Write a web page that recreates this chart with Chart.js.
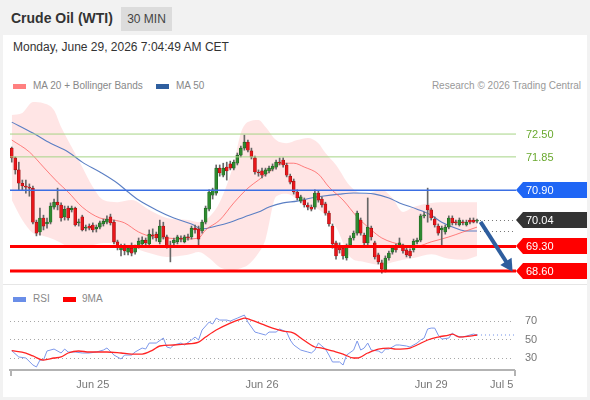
<!DOCTYPE html>
<html>
<head>
<meta charset="utf-8">
<script src="https://cdn.jsdelivr.net/npm/chart.js@4.4.1/dist/chart.umd.min.js"></script>
<style>
  html, body { margin: 0; padding: 0; }
  body { width: 590px; height: 400px; background: #f2f2f2; position: relative; overflow: hidden;
         font-family: "Liberation Sans", Arial, sans-serif; }
  #panel { position: absolute; left: 3px; top: 35px; width: 584px; height: 362px; background: #fff; }
  #title { position: absolute; left: 11px; top: 10px; font-size: 14px; font-weight: bold; color: #333; }
  #tf { position: absolute; left: 121px; top: 7px; width: 51px; height: 24px; line-height: 24px; text-align: center;
        background: #dcdcdc; color: #444; font-size: 12px; }
  #date { position: absolute; left: 13px; top: 40px; font-size: 12px; color: #333; }
  .leg { position: absolute; font-size: 10px; color: #888; white-space: nowrap; }
  .sw { position: absolute; width: 13px; height: 5px; }
  #sep { position: absolute; left: 3px; top: 284px; width: 584px; height: 1px; background: #e6e6e6; }
  canvas { position: absolute; left: 0; }
</style>
</head>
<body>
<div id="panel"></div>
<div id="title">Crude Oil (WTI)</div>
<div id="tf">30 MIN</div>
<div id="date">Monday, June 29, 2026 7:04:49 AM CET</div>

<div class="sw" style="left:13px; top:84px; background:#ff8080;"></div>
<div class="leg" style="left:33px; top:80px;">MA 20 + Bollinger Bands</div>
<div class="sw" style="left:156px; top:84px; background:#2f5f9f;"></div>
<div class="leg" style="left:176px; top:80px;">MA 50</div>
<div class="leg" style="right:9px; top:80px; color:#999;">Research © 2026 Trading Central</div>

<div id="sep"></div>

<div class="sw" style="left:13px; top:297px; background:#6a8ee8;"></div>
<div class="leg" style="left:33px; top:293px;">RSI</div>
<div class="sw" style="left:63px; top:297px; background:#ff0000;"></div>
<div class="leg" style="left:82px; top:293px;">9MA</div>

<canvas id="price" width="590" height="184" style="top:100px;"></canvas>
<canvas id="rsi" width="590" height="90" style="top:305px;"></canvas>

<script>
// 30-minute candles, oldest first (Jun 24 afternoon .. Jun 29 06:30)
const candleOpen = [
  72.10, 71.82, 71.48, 71.10, 71.02, 70.99, 70.96, 69.99, 69.71, 70.11,
  69.94, 69.99, 70.42, 70.56, 70.48, 70.14, 70.39, 70.34, 70.39, 69.97,
  70.14, 69.82, 69.88, 69.91, 69.80, 69.85, 69.94, 69.99, 70.14, 69.99,
  69.43, 69.20, 69.31, 69.14, 69.25, 69.14, 69.31, 69.37, 69.48, 69.37,
  69.62, 69.65, 69.43, 69.88, 69.57, 69.34, 69.40, 69.43, 69.54, 69.43,
  69.57, 69.57, 69.82, 69.80, 69.74, 69.99, 70.36, 70.76, 70.82, 71.53,
  71.33, 71.56, 71.65, 71.53, 71.67, 71.90, 72.10, 72.27, 72.02, 71.82,
  71.42, 71.45, 71.36, 71.45, 71.50, 71.56, 71.70, 71.76, 71.62, 71.30,
  71.16, 70.85, 70.59, 70.62, 70.48, 70.42, 70.42, 70.82, 70.65, 70.51,
  70.25, 69.88, 69.40, 69.31, 69.25, 68.97, 69.34, 69.54, 69.68, 70.05,
  69.62, 69.40, 69.82, 69.40, 69.06, 68.83, 68.63, 68.97, 69.14, 69.28,
  69.34, 69.31, 69.20, 69.17, 69.20, 69.43, 69.48, 70.17, 70.48, 70.34,
  70.08, 69.88, 69.77, 69.71, 69.85, 70.11, 69.99, 69.91, 69.99, 69.91,
  70.05, 70.05, 70.02
];
const candleHigh = [
  72.13, 71.85, 71.70, 71.19, 71.19, 71.08, 71.02, 70.05, 70.39, 70.19,
  70.11, 70.54, 70.65, 70.96, 70.54, 70.45, 70.45, 70.45, 70.42, 70.08,
  70.19, 69.91, 69.94, 69.97, 69.91, 70.02, 70.08, 70.17, 70.22, 70.05,
  69.48, 69.37, 69.37, 69.31, 69.40, 69.34, 69.54, 69.57, 69.54, 69.77,
  69.80, 69.71, 70.05, 69.99, 69.62, 69.45, 69.54, 69.62, 69.60, 69.62,
  69.65, 69.88, 69.91, 69.88, 70.05, 70.45, 70.91, 70.96, 71.62, 71.62,
  71.67, 71.70, 71.73, 71.76, 71.96, 72.16, 72.47, 72.33, 72.10, 71.87,
  71.48, 71.53, 71.53, 71.59, 71.65, 71.76, 71.82, 71.82, 71.67, 71.36,
  71.22, 70.91, 70.76, 70.68, 70.54, 70.48, 70.91, 70.88, 70.71, 70.56,
  70.31, 69.94, 69.45, 69.40, 69.31, 69.37, 69.60, 69.74, 70.31, 70.11,
  69.68, 70.68, 69.88, 69.45, 69.11, 68.91, 69.03, 69.17, 69.31, 69.37,
  69.54, 69.37, 69.25, 69.23, 69.51, 69.54, 70.22, 70.28, 70.96, 70.39,
  70.14, 69.94, 69.88, 69.91, 70.17, 70.17, 70.05, 70.11, 70.05, 70.05,
  70.11, 70.11, 70.08
];
const candleLow = [
  71.70, 71.36, 70.91, 70.91, 70.82, 70.73, 69.94, 69.60, 69.62, 69.77,
  69.82, 69.94, 70.36, 70.34, 70.02, 70.05, 70.05, 70.28, 69.88, 69.88,
  69.74, 69.74, 69.77, 69.71, 69.71, 69.80, 69.88, 69.94, 69.91, 69.37,
  69.20, 69.03, 69.06, 69.06, 69.03, 69.08, 69.25, 69.31, 69.31, 69.31,
  69.51, 69.45, 69.37, 69.51, 69.25, 68.86, 69.31, 69.37, 69.43, 69.40,
  69.48, 69.51, 69.68, 69.28, 69.68, 69.94, 70.31, 70.65, 70.76, 71.30,
  71.28, 71.19, 71.48, 71.48, 71.62, 71.85, 72.04, 71.99, 71.79, 71.36,
  71.30, 71.25, 71.30, 71.39, 71.45, 71.50, 71.62, 71.56, 71.28, 71.08,
  70.79, 70.62, 70.54, 70.42, 70.34, 70.31, 70.36, 70.56, 70.42, 70.19,
  69.88, 69.25, 68.94, 69.11, 68.94, 68.91, 69.28, 69.48, 69.62, 69.62,
  69.34, 69.34, 69.48, 68.94, 68.80, 68.54, 68.57, 68.91, 69.08, 69.14,
  69.28, 69.11, 69.00, 68.97, 69.14, 69.37, 69.43, 70.11, 69.99, 70.05,
  69.85, 69.62, 69.28, 69.65, 69.80, 69.91, 69.91, 69.88, 69.91, 69.88,
  69.94, 69.97, 69.97
];
const candleClose = [
  71.82, 71.48, 71.10, 71.02, 70.99, 70.96, 69.99, 69.68, 70.11, 69.88,
  69.99, 70.45, 70.56, 70.48, 70.11, 70.36, 70.11, 70.39, 69.91, 69.99,
  69.77, 69.85, 69.82, 69.77, 69.85, 69.97, 70.02, 70.08, 69.97, 69.43,
  69.28, 69.31, 69.17, 69.25, 69.11, 69.28, 69.45, 69.48, 69.40, 69.65,
  69.60, 69.54, 69.88, 69.57, 69.31, 69.28, 69.48, 69.57, 69.51, 69.57,
  69.54, 69.82, 69.77, 69.51, 69.99, 70.39, 70.85, 70.91, 71.53, 71.39,
  71.53, 71.45, 71.53, 71.70, 71.90, 72.10, 72.27, 72.04, 71.85, 71.42,
  71.39, 71.33, 71.48, 71.53, 71.59, 71.70, 71.67, 71.62, 71.33, 71.13,
  70.85, 70.68, 70.71, 70.48, 70.42, 70.36, 70.82, 70.62, 70.48, 70.25,
  69.94, 69.37, 69.03, 69.20, 69.03, 69.31, 69.54, 69.68, 70.25, 69.68,
  69.40, 69.85, 69.57, 69.00, 68.86, 68.66, 68.97, 69.11, 69.25, 69.20,
  69.40, 69.17, 69.06, 69.03, 69.45, 69.48, 70.17, 70.19, 70.34, 70.11,
  69.91, 69.68, 69.82, 69.85, 70.11, 69.97, 69.97, 70.05, 69.97, 69.99,
  69.99, 69.99, 70.04
];

// indicator lines, read at candle positions
const ma20Idx = [0,5,9,13,16,20,25,29,32,36,40,44,49,53,55,59,63,67,70,73,77,80,83,87,90,94,98,102,105,111,115,119,124,128,132];
const ma20Val = [72.33,71.99,71.56,71.13,70.85,70.42,70.11,70.05,69.97,69.71,69.57,69.54,69.51,69.54,69.77,70.05,70.54,70.96,71.19,71.42,71.67,71.67,71.56,71.36,70.99,70.62,70.14,69.77,69.54,69.34,69.31,69.43,69.57,69.71,69.85];

const ma50Idx = [0,6,11,16,20,25,30,33,36,41,46,51,54,58,62,66,70,73,77,81,85,88,93,97,103,107,110,115,119,122,126,129,132];
const ma50Val = [72.84,72.53,72.24,71.99,71.70,71.42,71.10,70.85,70.62,70.34,70.11,69.94,69.80,69.88,69.99,70.14,70.28,70.42,70.54,70.59,70.68,70.73,70.79,70.82,70.79,70.68,70.54,70.36,70.19,69.99,69.82,69.74,69.74];

const bbIdx = [0,3,6,9,12,14,17,20,23,26,30,34,39,44,50,53,56,59,63,65,67,70,72,75,78,81,84,87,89,92,96,100,105,108,111,114,119,124,128,132];
const bbUpper = [73.04,73.10,73.41,73.38,73.18,72.70,72.13,71.56,70.99,70.62,70.56,70.62,70.34,70.11,70.05,69.99,70.14,70.56,71.67,72.53,72.84,72.90,72.70,72.33,72.24,72.33,72.39,72.24,71.96,71.62,71.02,70.79,70.91,70.68,70.28,70.42,70.54,70.56,70.56,70.56];
const bbLower = [70.62,70.05,69.68,69.60,69.50,69.40,69.25,69.25,69.34,69.40,69.40,69.28,69.11,69.00,69.06,69.14,68.97,68.71,68.63,68.68,68.77,69.11,69.50,70.72,70.80,70.65,70.50,70.36,70.20,69.85,69.00,68.86,68.77,68.85,68.92,68.97,69.08,68.95,68.92,69.03];

// key levels on the right
const levelValues = [72.50, 71.85, 70.90, 70.04, 69.30, 68.60];
const projectionLevels = [70.04, 69.74];
const arrowStart = [133, 70.00];
const arrowEnd = [142.1, 68.58];

// RSI panel
const rsiIdx = [0,2,4,6,7,8,9,10,12,14,15,16,18,20,22,24,26,27,29,31,32,34,35,37,38,39,41,43,44,45,46,48,49,51,52,53,54,56,57,58,59,61,62,64,66,67,69,70,72,73,75,76,78,79,80,82,84,85,86,87,88,89,90,91,93,94,95,97,98,99,100,101,102,104,105,106,107,109,110,112,113,115,116,117,118,119,120,121,122,124,125,126,128,129,131,132];
const rsiVal = [37.9,31.1,30.0,22.4,20.3,27.8,27.8,37.6,39.7,35.4,39.7,36.5,36.5,35.4,35.4,36.5,38.6,40.8,33.2,28.9,33.2,33.2,36.5,40.8,39.7,46.2,46.2,51.6,41.9,40.8,44.1,46.2,44.1,49.5,52.7,49.5,60.3,68.9,66.8,73.2,71.1,71.1,70.0,73.2,76.5,68.9,58.1,57.0,54.9,58.1,58.1,61.4,58.1,49.5,44.1,38.6,36.5,35.4,38.6,46.2,43.0,39.7,33.2,25.7,25.7,22.4,33.2,38.6,48.4,38.6,40.8,46.2,38.6,37.6,35.4,39.7,39.7,44.1,44.1,43.0,41.9,46.2,49.5,51.6,61.4,62.4,62.4,54.9,50.5,51.6,57.0,53.8,52.7,53.8,55.9,54.9];
const rsiMaIdx = [0,4,6,9,12,14,16,19,22,27,31,34,37,40,42,46,49,53,55,58,62,65,66,68,71,74,77,80,82,86,88,91,94,97,98,101,104,107,109,113,115,118,121,124,125,127,130,132];
const rsiMaVal = [37.9,35.4,32.2,27.8,30.0,31.1,35.4,37.6,36.5,36.5,35.4,34.3,34.3,38.6,43.0,44.1,45.1,47.3,52.7,60.3,67.8,72.2,73.2,71.1,66.8,62.4,59.2,57.0,51.6,41.9,40.8,37.6,34.3,30.0,30.0,35.4,39.7,40.8,39.7,40.8,44.1,49.5,52.7,54.9,55.9,52.7,53.8,54.9];
const rsiProjIdx = [132, 142.5];
const rsiProjVal = [54.9, 54.9];
const rsiTicks = [70, 50, 30];

// date ticks under the RSI panel
const tickIdx = [23, 71, 119, 139];
const tickLabels = ['Jun 25', 'Jun 26', 'Jun 29', 'Jul 5'];

Chart.defaults.font.family = '"Liberation Sans", Arial, sans-serif';

const FONT = '11px "Liberation Sans", Arial, sans-serif';
const levelStyles = [
  { line: '#a6d486', width: 1, box: null, text: '#6aa92f' },
  { line: '#a6d486', width: 1, box: null, text: '#6aa92f' },
  { line: '#3b6fe3', width: 1.5, box: '#1f66f5', text: '#fff' },
  { line: null, width: 0, box: '#333333', text: '#fff' },
  { line: '#ff0000', width: 3, box: '#ff0000', text: '#fff' },
  { line: '#ff0000', width: 3, box: '#ff0000', text: '#fff' }
];

const toPts = (xs, ys) => xs.map((v, i) => ({ x: v, y: ys[i] }));
const idx = candleOpen.map((_, i) => i);
const up = idx.map(i => candleClose[i] >= candleOpen[i]);

// levels, projection, arrow and price boxes
const levelsPlugin = {
  id: 'levels',
  afterDatasetsDraw(chart) {
    const { ctx, chartArea: a, scales: { x, y } } = chart;
    ctx.save();

    // dotted projections after the last candle
    const x0 = x.getPixelForValue(candleClose.length - 1) + 3;
    ctx.strokeStyle = '#777';
    ctx.lineWidth = 1;
    ctx.setLineDash([1, 3]);
    projectionLevels.forEach(v => {
      const py = Math.round(y.getPixelForValue(v)) + 0.5;
      ctx.beginPath(); ctx.moveTo(x0, py); ctx.lineTo(a.right, py); ctx.stroke();
    });
    ctx.setLineDash([]);

    levelValues.forEach((v, k) => {
      const s = levelStyles[k];
      if (!s.line) return;
      const py = y.getPixelForValue(v);
      ctx.strokeStyle = s.line;
      ctx.lineWidth = s.width;
      ctx.beginPath(); ctx.moveTo(a.left, py); ctx.lineTo(a.right + 2, py); ctx.stroke();
    });

    // forecast arrow
    const ax0 = x.getPixelForValue(arrowStart[0]), ay0 = y.getPixelForValue(arrowStart[1]);
    const ax1 = x.getPixelForValue(arrowEnd[0]), ay1 = y.getPixelForValue(arrowEnd[1]);
    const ang = Math.atan2(ay1 - ay0, ax1 - ax0);
    const head = 14;
    ctx.strokeStyle = '#2e5d9e';
    ctx.fillStyle = '#2e5d9e';
    ctx.lineWidth = 4;
    ctx.beginPath();
    ctx.moveTo(ax0, ay0);
    ctx.lineTo(ax1 - head * 0.8 * Math.cos(ang), ay1 - head * 0.8 * Math.sin(ang));
    ctx.stroke();
    ctx.beginPath();
    ctx.moveTo(ax1, ay1);
    ctx.lineTo(ax1 - head * Math.cos(ang - 0.5), ay1 - head * Math.sin(ang - 0.5));
    ctx.lineTo(ax1 - head * Math.cos(ang + 0.5), ay1 - head * Math.sin(ang + 0.5));
    ctx.closePath();
    ctx.fill();

    // labels
    ctx.font = FONT;
    ctx.textBaseline = 'middle';
    levelValues.forEach((v, k) => {
      const s = levelStyles[k];
      const py = Math.round(y.getPixelForValue(v));
      if (s.box) {
        ctx.fillStyle = s.box;
        ctx.beginPath();
        ctx.moveTo(a.right + 2, py);
        ctx.lineTo(a.right + 9, py - 8);
        ctx.lineTo(a.right + 73, py - 8);
        ctx.lineTo(a.right + 73, py + 8);
        ctx.lineTo(a.right + 9, py + 8);
        ctx.closePath();
        ctx.fill();
      }
      ctx.fillStyle = s.text;
      ctx.fillText(v.toFixed(2), a.right + 12, py + 1);
    });
    ctx.restore();
  }
};

new Chart(document.getElementById('price'), {
  type: 'bar',
  data: {
    datasets: [
      {
        type: 'bar',
        data: idx.map(i => ({ x: i, y: [candleOpen[i], candleClose[i]] })),
        backgroundColor: idx.map(i => up[i] ? '#2e8a30' : '#e8161b'),
        borderColor: idx.map(i => up[i] ? '#1d5e1f' : '#9a1010'),
        borderWidth: 0.6,
        borderSkipped: false,
        barThickness: 3,
        minBarLength: 1,
        grouped: false,
        order: 0
      },
      {
        type: 'bar',
        data: idx.map(i => ({ x: i, y: [candleLow[i], candleHigh[i]] })),
        backgroundColor: '#666',
        barThickness: 1,
        grouped: false,
        order: 1
      },
      {
        type: 'line',
        data: toPts(ma20Idx, ma20Val),
        borderColor: 'rgba(255,90,90,0.75)',
        borderWidth: 1,
        pointRadius: 0,
        cubicInterpolationMode: 'monotone',
        order: 2
      },
      {
        type: 'line',
        data: toPts(ma50Idx, ma50Val),
        borderColor: '#5b7fc4',
        borderWidth: 1.1,
        pointRadius: 0,
        cubicInterpolationMode: 'monotone',
        order: 3
      },
      {
        type: 'line',
        data: toPts(bbIdx, bbUpper),
        borderWidth: 0,
        borderColor: 'rgba(0,0,0,0)',
        pointRadius: 0,
        cubicInterpolationMode: 'monotone',
        fill: '+1',
        backgroundColor: 'rgba(255,40,40,0.12)',
        order: 4
      },
      {
        type: 'line',
        data: toPts(bbIdx, bbLower),
        borderWidth: 0,
        borderColor: 'rgba(0,0,0,0)',
        pointRadius: 0,
        cubicInterpolationMode: 'monotone',
        fill: false,
        order: 5
      }
    ]
  },
  options: {
    responsive: false,
    animation: false,
    layout: { padding: { left: 10, right: 76, top: 0, bottom: 0 } },
    plugins: { legend: { display: false }, tooltip: { enabled: false } },
    scales: {
      x: { type: 'linear', min: -0.5, max: 142.5, offset: false, display: false },
      y: { min: 68.23, max: 73.47, display: false }
    }
  },
  plugins: [levelsPlugin]
});

// RSI labels on the right and the little end ticks of the time axis
const rsiPlugin = {
  id: 'rsiExtras',
  afterDraw(chart) {
    const { ctx, chartArea: a, scales: { y } } = chart;
    ctx.save();
    ctx.font = FONT;
    ctx.fillStyle = '#777';
    ctx.textBaseline = 'middle';
    rsiTicks.forEach(v => ctx.fillText(String(v), a.right + 11, y.getPixelForValue(v)));
    ctx.strokeStyle = '#b3b3b3';
    ctx.lineWidth = 2;
    ctx.beginPath();
    ctx.moveTo(a.left + 1, a.bottom); ctx.lineTo(a.left + 1, a.bottom + 6);
    ctx.moveTo(a.right + 1, a.bottom); ctx.lineTo(a.right + 1, a.bottom + 6);
    ctx.stroke();
    ctx.restore();
  }
};

new Chart(document.getElementById('rsi'), {
  type: 'line',
  data: {
    datasets: [
      { data: toPts(rsiMaIdx, rsiMaVal), borderColor: '#ff2424', borderWidth: 1.3, pointRadius: 0, cubicInterpolationMode: 'monotone', order: 0 },
      { data: toPts(rsiIdx, rsiVal), borderColor: '#7d98ea', borderWidth: 1, pointRadius: 0, tension: 0, order: 1 },
      { data: toPts(rsiProjIdx, rsiProjVal), borderColor: '#6f8fe6', borderWidth: 1, borderDash: [1, 3], pointRadius: 0, order: 2 }
    ]
  },
  options: {
    responsive: false,
    animation: false,
    layout: { padding: { left: 10, right: 0, top: 5, bottom: 0 } },
    plugins: { legend: { display: false }, tooltip: { enabled: false } },
    scales: {
      x: {
        type: 'linear', min: -0.5, max: 142.5,
        afterBuildTicks: s => { s.ticks = tickIdx.map(v => ({ value: v })); },
        afterFit: s => { s.height = 25; },
        grid: { display: false, drawTicks: false },
        border: { color: '#b3b3b3', width: 2 },
        ticks: { callback: (v, i) => tickLabels[i], color: '#777', font: { size: 11 }, padding: 8, maxRotation: 0, autoSkip: false }
      },
      y: {
        position: 'right', min: 17, max: 82,
        afterBuildTicks: s => { s.ticks = rsiTicks.map(v => ({ value: v })); },
        afterFit: s => { s.width = 76; },
        grid: { color: '#a8a8a8', drawTicks: false },
        border: { display: false, dash: [1, 3] },
        ticks: { display: false }
      }
    }
  },
  plugins: [rsiPlugin]
});
</script>
</body>
</html>
